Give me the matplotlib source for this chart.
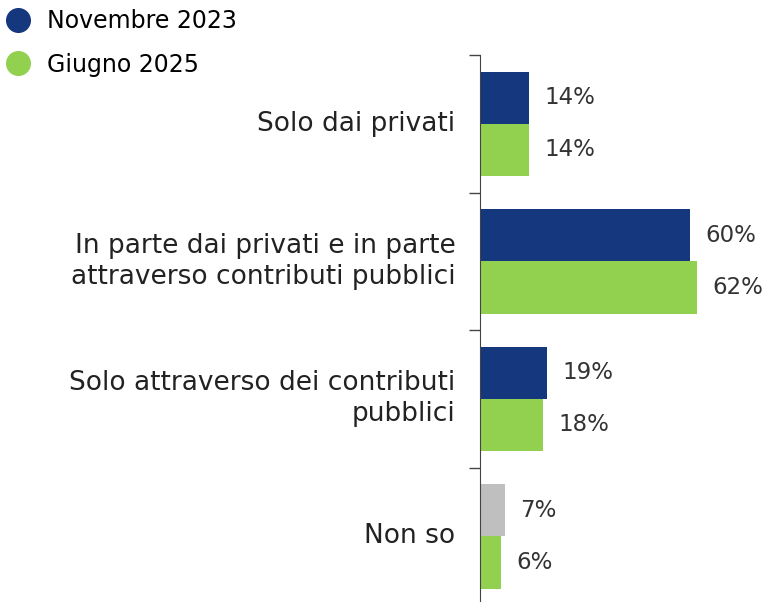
import numpy as np
import matplotlib.pyplot as plt
from matplotlib.lines import Line2D

plt.rcParams['font.family'] = ['DejaVu Sans']

categories = ["Solo dai privati",
              "In parte dai privati e in parte\nattraverso contributi pubblici",
              "Solo attraverso dei contributi\npubblici",
              "Non so"]
nov_2023 = [14, 60, 19, 7]
giu_2025 = [14, 62, 18, 6]
series_names = ["Novembre 2023", "Giugno 2025"]

navy = "#14377D"
green = "#92D050"
grey = "#BFBFBF"

fig = plt.figure(figsize=(7.7, 6.02), dpi=100)
ax = fig.add_axes([480 / 770, -3 / 602, 290 / 770, 550 / 602])

y = np.arange(len(categories))
h = 0.38
nov_colors = [navy] * (len(categories) - 1) + [grey]
ax.barh(y - h / 2, nov_2023, height=h, color=nov_colors)
ax.barh(y + h / 2, giu_2025, height=h, color=green)

for i in range(len(categories)):
    ax.text(nov_2023[i] + 4.5, y[i] - h / 2, f"{nov_2023[i]}%", va="center",
            ha="left", fontsize=16.5, color="#333333")
    ax.text(giu_2025[i] + 4.5, y[i] + h / 2, f"{giu_2025[i]}%", va="center",
            ha="left", fontsize=16.5, color="#333333")
    ax.text(-7, y[i], categories[i], va="center", ha="right", fontsize=19,
            color="#222222", linespacing=1.25)

ax.set_xlim(0, 290 / 3.5)
ax.set_ylim(len(categories) - 0.5, -0.5)
ax.set_xticks([])
ax.set_yticks([])
ax.set_yticks(np.arange(-0.5, len(categories) - 0.5, 1), minor=True)
ax.tick_params(axis="y", which="minor", length=8, width=1, color="#444444",
               labelleft=False)
for s in ["top", "right", "bottom"]:
    ax.spines[s].set_visible(False)
ax.spines["left"].set_color("#444444")

handles = [Line2D([], [], marker="o", linestyle="", markersize=17, color=c)
           for c in [navy, green]]
fig.legend(handles, series_names, loc="upper left", bbox_to_anchor=(-0.026, 1.008),
           frameon=False, fontsize=17, handletextpad=0.25, labelspacing=0.82,
           borderaxespad=0.2)

fig.savefig("out.png", dpi=100)
